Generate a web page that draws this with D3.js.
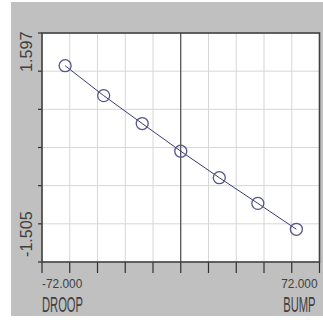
<!DOCTYPE html>
<html><head><meta charset="utf-8">
<script src="https://cdn.jsdelivr.net/npm/d3@7"></script>
<style>html,body{margin:0;padding:0;background:#fff;}svg{display:block;}</style>
</head><body>
<script>
// Data
const xValues = [-72, -48, -24, 0, 24, 48, 72];
const yValues = [1.597, 1.030, 0.500, -0.024, -0.527, -1.013, -1.505];
const xTickLabels = ["-72.000", "72.000"];
const yTickLabels = ["1.597", "-1.505"];
const xAxisNames = ["DROOP", "BUMP"];

const W = 323, H = 320;
const L = 42, R = 319.5, T = 33, B = 262;

const svg = d3.select("body").append("svg").attr("width", W).attr("height", H);
svg.append("rect").attr("x", 11).attr("y", 2).attr("width", W - 11).attr("height", 314).attr("fill", "#c0c0c0");
svg.append("rect").attr("x", L).attr("y", T).attr("width", R - L).attr("height", B - T).attr("fill", "#fff");

const xmin = d3.min(xValues), xmax = d3.max(xValues), xr = xmax - xmin;
const ymin = d3.min(yValues), ymax = d3.max(yValues), yr = ymax - ymin;
const x = d3.scaleLinear().domain([xmin - 0.1 * xr, xmax + 0.1 * xr]).range([L, R]);
const y = d3.scaleLinear().domain([ymin - 0.2 * yr, ymax + 0.2 * yr]).range([B, T]);

const xd = x.domain(), yd = y.domain();
const xGrid = d3.range(11).map(i => xd[0] + i * (xd[1] - xd[0]) / 10);
const yGrid = d3.range(7).map(i => yd[0] + i * (yd[1] - yd[0]) / 6);

const g = svg.append("g");
g.selectAll("line.vx").data(xGrid).join("line")
  .attr("x1", d => x(d)).attr("x2", d => x(d)).attr("y1", T).attr("y2", B)
  .attr("stroke", "#d6d6d6").attr("stroke-width", 1);
g.selectAll("line.hy").data(yGrid).join("line")
  .attr("x1", L).attr("x2", R).attr("y1", d => y(d)).attr("y2", d => y(d))
  .attr("stroke", "#d6d6d6").attr("stroke-width", 1);

g.append("line").attr("x1", x(0)).attr("x2", x(0)).attr("y1", T).attr("y2", B)
  .attr("stroke", "#303030").attr("stroke-width", 1);

g.selectAll("line.tx").data(xGrid).join("line")
  .attr("x1", d => x(d)).attr("x2", d => x(d)).attr("y1", B).attr("y2", B + 11)
  .attr("stroke", "#303030").attr("stroke-width", 1.2);
g.selectAll("line.ty").data(yGrid).join("line")
  .attr("x1", L - 4).attr("x2", L).attr("y1", d => y(d)).attr("y2", d => y(d))
  .attr("stroke", "#303030").attr("stroke-width", 1.2);

g.append("rect").attr("x", L).attr("y", T).attr("width", R - L).attr("height", B - T)
  .attr("fill", "none").attr("stroke", "#404040").attr("stroke-width", 1.6);

const pts = xValues.map((v, i) => [v, yValues[i]]);
g.append("path").datum(pts)
  .attr("d", d3.line().x(d => x(d[0])).y(d => y(d[1])))
  .attr("fill", "none").attr("stroke", "#3a3a78").attr("stroke-width", 1);
g.selectAll("circle").data(pts).join("circle")
  .attr("cx", d => x(d[0])).attr("cy", d => y(d[1])).attr("r", 6)
  .attr("fill", "none").attr("stroke", "#55558a").attr("stroke-width", 1.3);

const font = "'Liberation Sans',Arial,sans-serif";
const tc = "#404040";
function label(tx, anchor, txt, size, sx, sy, rot) {
  return svg.append("text")
    .attr("transform", `translate(${tx[0]},${tx[1]})` + (rot ? ` rotate(${rot})` : "") + ` scale(${sx},${sy})`)
    .attr("text-anchor", anchor).text(txt)
    .attr("font-family", font).attr("font-size", size).attr("fill", tc);
}
label([L, 287.5], "start", xTickLabels[0], 12.5, 0.95, 1.02);
label([R - 2, 287.5], "end", xTickLabels[1], 12.5, 0.95, 1.02);
label([L, 312], "start", xAxisNames[0], 20, 0.56, 1.06);
label([R - 4, 312], "end", xAxisNames[1], 20, 0.56, 1.06);
label([32, 72], "start", yTickLabels[0], 16.5, 0.98, 1.0, -90);
label([32, 257], "start", yTickLabels[1], 16.5, 0.98, 1.0, -90);
</script>
</body></html>
